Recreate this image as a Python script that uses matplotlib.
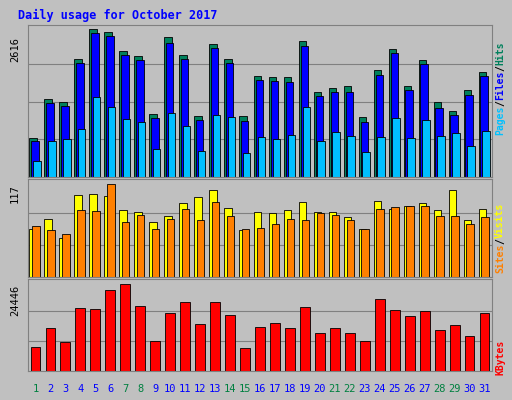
import matplotlib
matplotlib.use("Agg")
import matplotlib.pyplot as plt
import numpy as np

days = list(range(1, 32))
weekend = [1, 7, 8, 14, 15, 21, 22, 28, 29]
hits = [685,1352,1299,2054,2581,2528,2195,2107,1089,2440,2124,1053,2318,2054,1053,1756,1738,1738,2370,1475,1545,1580,1036,1861,2230,1580,2037,1299,1141,1510,1826]
files = [620,1282,1229,1984,2511,2458,2125,2037,1019,2335,2054,983,2248,1984,965,1686,1668,1650,2282,1405,1475,1475,948,1773,2160,1510,1967,1194,1071,1422,1756]
pages = [281,632,667,843,1387,1211,1001,948,492,1106,878,456,1071,1036,421,702,667,737,1211,632,790,720,439,702,1018,685,983,720,773,544,808]
visits = [59,71,48,100,101,99,81,79,67,74,90,97,106,84,57,79,78,81,91,79,79,73,58,92,83,87,90,81,106,69,83]
sites = [62,57,52,81,80,113,67,76,59,71,83,69,91,74,58,60,64,71,69,78,75,69,59,83,85,87,87,74,74,64,73]
kbytes = [6667,11667,8056,17222,16944,22222,23889,17778,8333,15833,18889,12778,18889,15278,6389,11944,13056,11667,17500,10278,11667,10278,8333,19722,16667,15000,16389,11111,12500,9444,15833]

W, H = 512, 400
fig = plt.figure(figsize=(W/100, H/100), dpi=100, facecolor='#C0C0C0')
mono = 'DejaVu Sans Mono'

def pax(x0, y0, x1, y1):
    ax = fig.add_axes([x0/W, 1-y1/H, (x1-x0)/W, (y1-y0)/H])
    ax.set_facecolor('#C0C0C0')
    ax.set_xlim(0.5, 31.5)
    ax.set_xticks([]); ax.set_yticks([])
    for s in ax.spines.values():
        s.set_color('#808080')
    return ax

x = np.array(days)
ax1 = pax(28, 25, 492, 177)
ax1.set_ylim(0, 2616*1.01)
for g in [2616/4, 2616/2, 2616*3/4]:
    ax1.axhline(g, color='#808080', lw=0.8, zorder=0)
kw = dict(edgecolor='black', linewidth=0.6, align='edge')
ax1.bar(x-0.4, hits, 0.5, color='#00805C', **kw)
ax1.bar(x-0.28, files, 0.5, color='#0000FF', **kw)
ax1.bar(x-0.16, pages, 0.5, color='#00C0FF', **kw)

ax2 = pax(28, 179, 492, 277)
ax2.set_ylim(0, 117*1.02)
for g in [117/3, 117*2/3]:
    ax2.axhline(g, color='#808080', lw=0.8, zorder=0)
ax2.bar(x-0.4, visits, 0.5, color='#FFFF00', **kw)
ax2.bar(x-0.22, sites, 0.5, color='#FF8000', **kw)

ax3 = pax(28, 279, 492, 371)
ax3.set_ylim(0, 24446*1.03)
for g in [24446/3, 24446*2/3]:
    ax3.axhline(g, color='#808080', lw=0.8, zorder=0)
ax3.bar(x-0.33, kbytes, 0.66, color='#FF0000', **kw)

fig.text(18/W, 1-15/H, 'Daily usage for October 2017', color='#0000FF', fontsize=8.5,
         fontweight='bold', family=mono, va='center')
for d in days:
    xp = 28 + (d-0.5)/31*464
    fig.text(xp/W, 1-389/H, str(d), ha='center', va='center', fontsize=7.5, family=mono,
             color='#008040' if d in weekend else '#0000FF')
fig.text(15/W, 1-50/H, '2616', rotation=90, ha='center', va='center', fontsize=7.5, family=mono)
fig.text(15/W, 1-194/H, '117', rotation=90, ha='center', va='center', fontsize=7.5, family=mono)
fig.text(15/W, 1-300/H, '24446', rotation=90, ha='center', va='center', fontsize=7.5, family=mono)

CH = 0.602 * 7 * 100 / 72  # monospace advance in px

def rlabel(y, parts):
    yy = y
    for txt, col in parts:
        fig.text(500/W, 1-yy/H, txt, rotation=90, ha='center', va='bottom', fontsize=7,
                 family=mono, color=col, fontweight='bold', rotation_mode='anchor')
        yy -= len(txt)*CH

def rlabel(y, parts):
    yy = y
    for txt, col in parts:
        fig.text(500/W, 1-yy/H, txt, rotation=90, ha='left', va='center', fontsize=7,
                 family=mono, color=col, fontweight='bold', rotation_mode='anchor')
        yy -= len(txt)*CH
rlabel(135, [('Pages', '#00C0FF'), ('/', '#000000'), ('Files', '#0000FF'), ('/', '#000000'), ('Hits', '#00805C')])
rlabel(273, [('Sites', '#FF8000'), ('/', '#000000'), ('Visits', '#FFFF00')])
rlabel(375, [('KBytes', '#FF0000')])

fig.savefig('out.png', dpi=100, facecolor=fig.get_facecolor())
